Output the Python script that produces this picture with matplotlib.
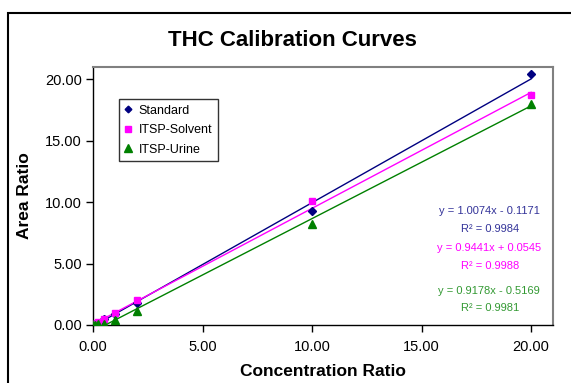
import matplotlib
matplotlib.use("Agg")
import matplotlib.pyplot as plt
from matplotlib.patches import Rectangle
import numpy as np

plt.rcParams['font.family'] = ['Liberation Sans', 'DejaVu Sans']

conc = [0.0, 0.1, 0.25, 0.5, 1.0, 2.0, 10.0, 20.0]
standard = [0.0, 0.08, 0.2, 0.45, 0.9, 1.8, 9.3, 20.4]
solvent = [0.05, 0.12, 0.25, 0.5, 1.0, 2.0, 10.1, 18.7]
urine = [0.0, 0.02, 0.05, 0.1, 0.4, 1.1, 8.2, 18.0]

series_names = ["Standard", "ITSP-Solvent", "ITSP-Urine"]
slopes = [1.0074, 0.9441, 0.9178]
intercepts = [-0.1171, 0.0545, -0.5169]
eq_texts = ["y = 1.0074x - 0.1171", "y = 0.9441x + 0.0545", "y = 0.9178x - 0.5169"]
r2_texts = ["R\u00b2 = 0.9984", "R\u00b2 = 0.9988", "R\u00b2 = 0.9981"]
xticks = [0, 5, 10, 15, 20]
yticks = [0, 5, 10, 15, 20]

colors = ["#000080", "#FF00FF", "#008000"]
text_colors = ["#333399", "#FF00FF", "#339933"]
markers = ["D", "s", "^"]
msizes = [4, 5, 6]

fig = plt.figure(figsize=(5.71, 3.83), dpi=100)
# outer chart border
fig.patches.append(Rectangle((8/571, -0.1), 1.2, (383-12.5)/383 + 0.1, transform=fig.transFigure,
                             fill=False, edgecolor='black', linewidth=1.5))

ax = fig.add_axes([93/571, 1-325/383, (553-93)/571, (325-67)/383])
ys = [standard, solvent, urine]
xl = np.array([0.0, 20.0])
for name, y, c, m, ms, s, b in zip(series_names, ys, colors, markers, msizes, slopes, intercepts):
    ax.plot(conc, y, linestyle='none', marker=m, color=c, markersize=ms, label=name, zorder=3)
    ax.plot(xl, s*xl + b, color=c, linewidth=1.0, zorder=2)

ax.set_xlim(0, 21)
ax.set_ylim(0, 21)
ax.set_xticks(xticks)
ax.set_yticks(yticks)
ax.set_xticklabels([f"{v:.2f}" for v in xticks], fontsize=10.5)
ax.set_yticklabels([f"{v:.2f}" for v in yticks], fontsize=10.5)
ax.tick_params(direction='out', length=5, width=1, color='black')
ax.tick_params(axis='x', pad=6)
ax.tick_params(axis='y', pad=3)
for sp in ['top', 'right']:
    ax.spines[sp].set_color('#808080')
    ax.spines[sp].set_linewidth(1.5)
for sp in ['left', 'bottom']:
    ax.spines[sp].set_color('black')
    ax.spines[sp].set_linewidth(1.0)

fig.text(292/571, 1-40/383, "THC Calibration Curves", ha='center', va='center',
         fontsize=16, fontweight='bold')
fig.text(25/571, 1-196/383, "Area Ratio", ha='center', va='center', rotation=90,
         fontsize=12.5, fontweight='bold')
fig.text(323/571, 1-372/383, "Concentration Ratio", ha='center', va='center',
         fontsize=12.5, fontweight='bold')

leg = ax.legend(loc='upper left', bbox_to_anchor=((119-93)/460, (325-99)/258),
                fontsize=9, frameon=True, fancybox=False, edgecolor='black',
                handlelength=0.6, handletextpad=0.5, borderpad=0.45, labelspacing=0.6,
                borderaxespad=0, markerscale=0.85)
leg.get_frame().set_linewidth(1.0)

eq_y = [211, 248, 291]
r2_y = [229, 266, 308]
for t, r, c, ey, ry in zip(eq_texts, r2_texts, text_colors, eq_y, r2_y):
    ax.text((489-93)/460, (325-ey)/258, t, transform=ax.transAxes, ha='center', va='center',
            fontsize=8, color=c)
    ax.text((490-93)/460, (325-ry)/258, r, transform=ax.transAxes, ha='center', va='center',
            fontsize=8, color=c)

fig.savefig("out.png", dpi=100)
